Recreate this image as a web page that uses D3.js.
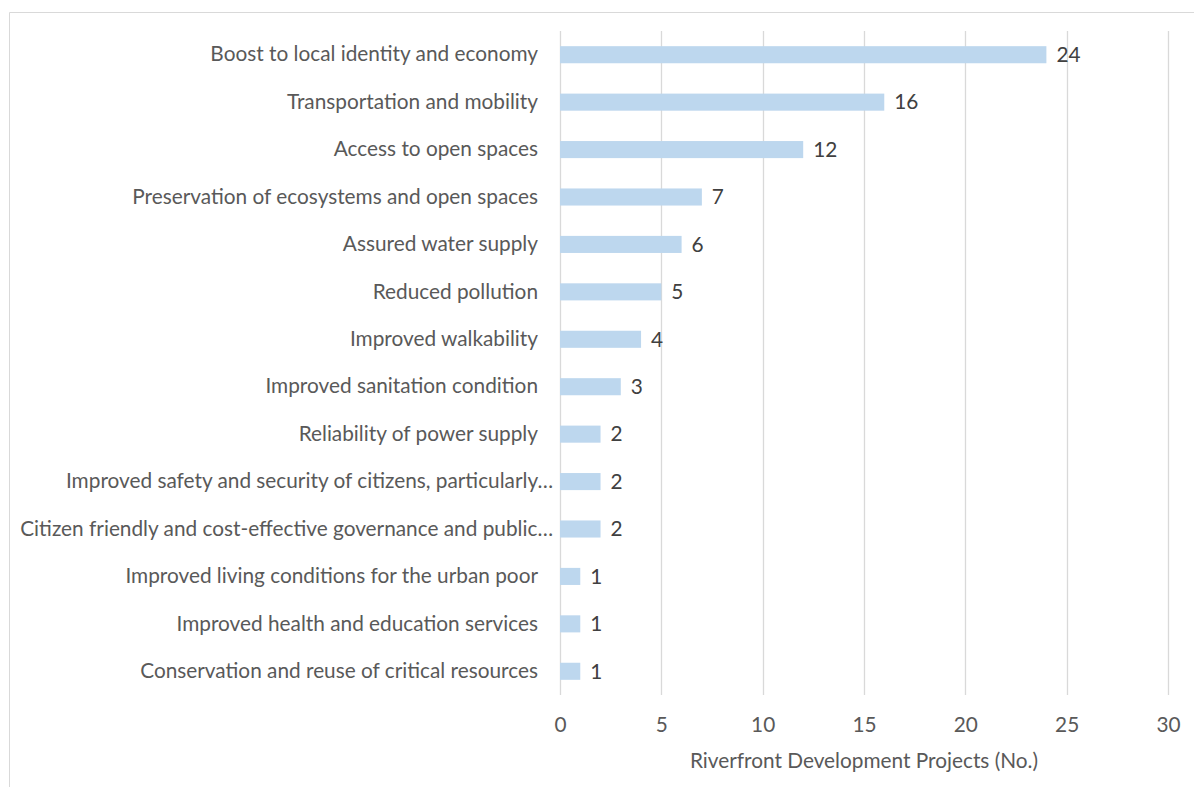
<!DOCTYPE html>
<html>
<head>
<meta charset="utf-8">
<script src="https://cdn.jsdelivr.net/npm/d3@7/dist/d3.min.js"></script>
<style>
  html, body { margin: 0; padding: 0; background: #fff; }
  svg { display: block; }
  text { font-family: Lato, "Liberation Sans", sans-serif; }
</style>
</head>
<body>
<svg id="chart" width="1194" height="787"></svg>
<script>
// Benefits reported by riverfront development projects
const categories = [
  "Boost to local identity and economy",
  "Transportation and mobility",
  "Access to open spaces",
  "Preservation of ecosystems and open spaces",
  "Assured water supply",
  "Reduced pollution",
  "Improved walkability",
  "Improved sanitation condition",
  "Reliability of power supply",
  "Improved safety and security of citizens, particularly…",
  "Citizen friendly and cost-effective governance and public…",
  "Improved living conditions for the urban poor",
  "Improved health and education services",
  "Conservation and reuse of critical resources"
];
const projectCounts = [24, 16, 12, 7, 6, 5, 4, 3, 2, 2, 2, 1, 1, 1];
const xTicks = [0, 5, 10, 15, 20, 25, 30];
const xTitle = "Riverfront Development Projects (No.)";

const svg = d3.select("#chart");
const W = 1194, H = 787;
const plot = { left: 560, right: 1168, top: 31, bottom: 695 };
const FS = 20.8;

// chart frame
svg.append("path")
  .attr("d", `M9.5,${H} V12.5 H${W}`)
  .attr("fill", "none")
  .attr("stroke", "#d9d9d9")
  .attr("stroke-width", 1);

const x = d3.scaleLinear().domain([0, 30]).range([plot.left, plot.right]);
const y = d3.scaleBand().domain(categories).range([plot.top, plot.bottom]).paddingInner(0.64).paddingOuter(0.32);

// vertical gridlines
svg.append("g")
  .selectAll("line")
  .data(xTicks)
  .join("line")
  .attr("x1", d => Math.round(x(d)) + 0.5)
  .attr("x2", d => Math.round(x(d)) + 0.5)
  .attr("y1", plot.top)
  .attr("y2", plot.bottom)
  .attr("stroke", "#d9d9d9")
  .attr("stroke-width", 1.3);

// x axis labels
const xAxis = d3.axisBottom(x).tickValues(xTicks).tickSize(0).tickPadding(0);
const gx = svg.append("g").attr("transform", `translate(0,${plot.bottom + 22})`).call(xAxis);
gx.select(".domain").remove();
gx.selectAll("text")
  .attr("font-family", "Lato, 'Liberation Sans', sans-serif")
  .attr("font-size", FS)
  .attr("fill", "#595959");

// category axis labels
const yAxis = d3.axisLeft(y).tickSize(0).tickPadding(0);
const gy = svg.append("g").attr("transform", `translate(${plot.left - 22},0)`).call(yAxis);
gy.select(".domain").remove();
gy.selectAll("text")
  .attr("font-family", "Lato, 'Liberation Sans', sans-serif")
  .attr("font-size", FS)
  .attr("fill", "#595959")
  .attr("dx", d => d.endsWith("…") ? 15 : 0);

// bars
const rows = categories.map((c, i) => ({ c, v: projectCounts[i] }));
svg.append("g")
  .selectAll("rect")
  .data(rows)
  .join("rect")
  .attr("x", x(0))
  .attr("y", d => y(d.c))
  .attr("width", d => x(d.v) - x(0))
  .attr("height", y.bandwidth())
  .attr("fill", "#bdd7ee");

// value labels
svg.append("g")
  .selectAll("text")
  .data(rows)
  .join("text")
  .attr("x", d => x(d.v) + 10)
  .attr("y", d => y(d.c) + y.bandwidth() / 2)
  .attr("dy", "0.35em")
  .attr("font-size", FS)
  .attr("fill", "#404040")
  .text(d => d.v);

// axis title
svg.append("text")
  .attr("x", (plot.left + plot.right) / 2)
  .attr("y", 761)
  .attr("dy", "0.35em")
  .attr("text-anchor", "middle")
  .attr("font-size", FS)
  .attr("fill", "#595959")
  .text(xTitle);
</script>
</body>
</html>
